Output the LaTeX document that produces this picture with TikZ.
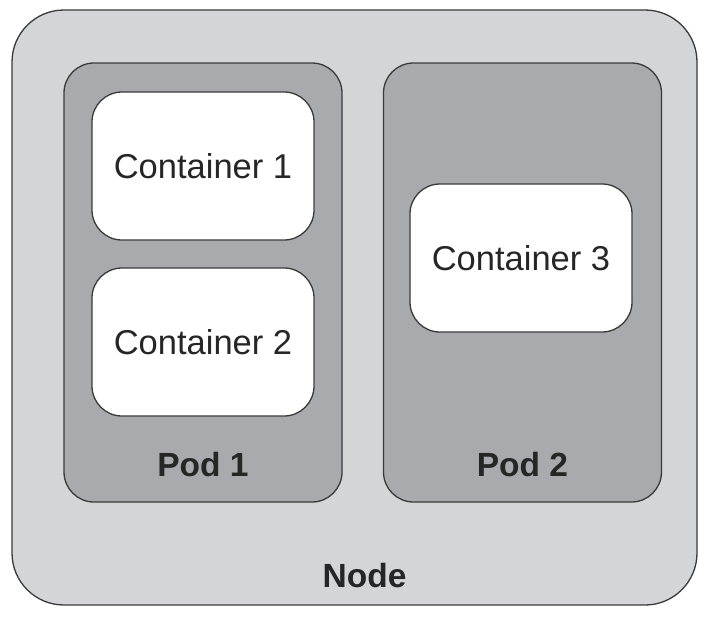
\documentclass[tikz,border=0pt]{standalone}
\usepackage{fontspec}
\setmainfont{Liberation Sans}
\usetikzlibrary{positioning}

\definecolor{nodegray}{HTML}{D4D5D7}
\definecolor{podgray}{HTML}{A9AAAD}
\definecolor{edgegray}{HTML}{3A3A3A}

\begin{document}
\begin{tikzpicture}[x=1pt,y=-1pt,
  box/.style={draw=edgegray,line width=1.3pt,rounded corners=#1,inner sep=0pt},
  hostbox/.style={box=52pt,fill=nodegray,minimum width=685pt,minimum height=595pt},
  podbox/.style={box=30pt,fill=podgray,minimum width=278pt,minimum height=439pt},
  ctrbox/.style={box=30pt,fill=white,minimum width=222pt,minimum height=148pt,
    font=\fontsize{34.5}{40}\selectfont,text=black!85},
  tag/.style={font=\fontsize{33.5}{38}\selectfont\bfseries,text=black!85}]
\useasboundingbox (0,0) rectangle (707,619);
\node[hostbox] (host) at (354.5,307.5) {};
\node[podbox] (pod1) at (203,282.5) {};
\node[podbox] (pod2) at (522.5,282.5) {};
\node[ctrbox] (ctr1) at (203,166) {Container 1};
\node[ctrbox] (ctr2) at (203,342) {Container 2};
\node[ctrbox] (ctr3) at (521,258) {Container 3};
\node[tag] (pod1tag) at (203,465) {Pod 1};
\node[tag] (pod2tag) at (522.5,465) {Pod 2};
\node[tag] (hosttag) at (364.5,576) {Node};
\end{tikzpicture}
\end{document}
